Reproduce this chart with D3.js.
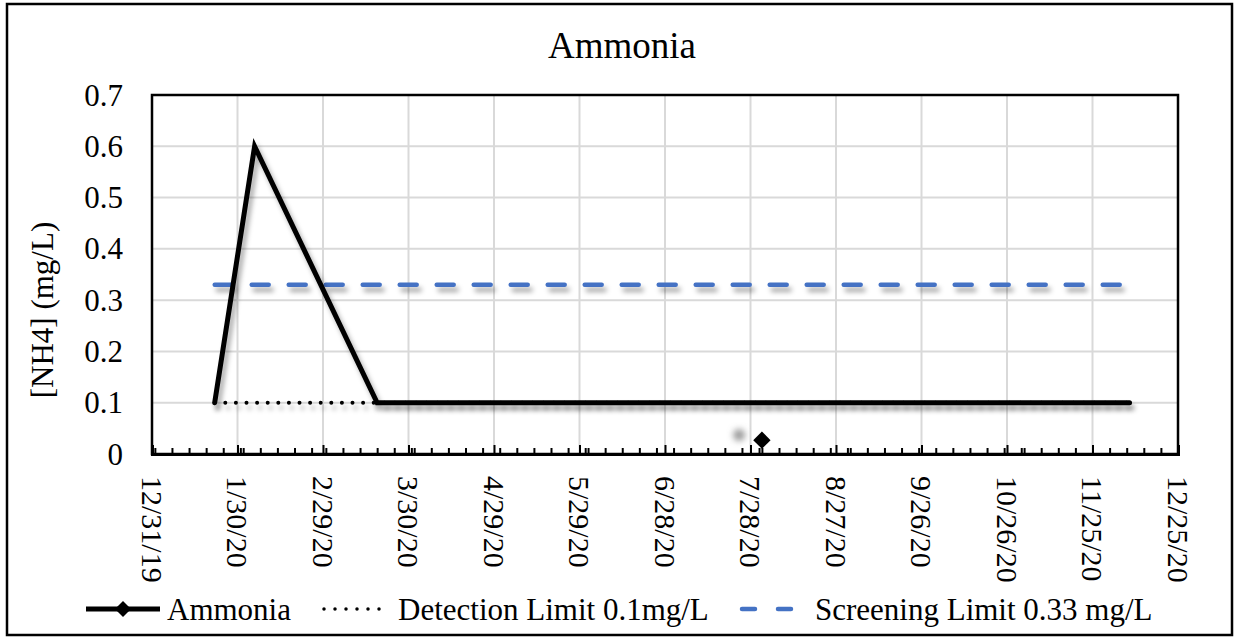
<!DOCTYPE html>
<html>
<head>
<meta charset="utf-8">
<script src="https://cdn.jsdelivr.net/npm/d3@7"></script>
</head>
<body style="margin:0">
<script>
// chart values
const xTickLabels = ["12/31/19", "1/30/20", "2/29/20", "3/30/20", "4/29/20", "5/29/20", "6/28/20",
  "7/28/20", "8/27/20", "9/26/20", "10/26/20", "11/25/20", "12/25/20"];
const yTicks = [0, 0.1, 0.2, 0.3, 0.4, 0.5, 0.6, 0.7];

const ammoniaDates = ["1/22/20", "2/5/20", "3/19/20", "12/8/20"];
const ammoniaValues = [0.1, 0.6, 0.1, 0.1];

const limitDates = ["1/22/20", "12/8/20"];
const detectionValues = [0.1, 0.1];
const screeningValues = [0.33, 0.33];

const markerDates = ["8/1/20"];
const markerValues = [0.027];
const ghostDates = ["7/24/20"];
const ghostValues = [0.037];

const legendNames = ["Ammonia", "Detection Limit 0.1mg/L", "Screening Limit 0.33 mg/L"];

const width = 1234, height = 639;
const margin = { top: 95, right: 56, bottom: 185, left: 152 };
const parse = d3.utcParse("%m/%d/%y");

const svg = d3.select("body").append("svg")
  .attr("width", width)
  .attr("height", height)
  .attr("font-family", "Liberation Serif");

const defs = svg.append("defs");
defs.append("filter")
  .attr("id", "shadow")
  .attr("filterUnits", "userSpaceOnUse")
  .attr("x", 0).attr("y", 0).attr("width", width).attr("height", height)
  .append("feDropShadow")
  .attr("dx", 3).attr("dy", 5).attr("stdDeviation", 2.5)
  .attr("flood-color", "#000").attr("flood-opacity", 0.35);
defs.append("filter")
  .attr("id", "blur")
  .attr("filterUnits", "userSpaceOnUse")
  .attr("x", 0).attr("y", 0).attr("width", width).attr("height", height)
  .append("feGaussianBlur").attr("stdDeviation", 3);

// outer frame
svg.append("rect")
  .attr("x", 7).attr("y", 4)
  .attr("width", 1225).attr("height", 631)
  .attr("fill", "none").attr("stroke", "#000").attr("stroke-width", 2.5);

const x = d3.scaleUtc()
  .domain([parse(xTickLabels[0]), parse(xTickLabels[xTickLabels.length - 1])])
  .range([margin.left, width - margin.right]);

const y = d3.scaleLinear()
  .domain([0, 0.7])
  .range([height - margin.bottom, margin.top]);

const majorDates = xTickLabels.map(parse);
const minorDates = d3.utcDay.every(6).range(x.domain()[0], x.domain()[1]);

// gridlines
svg.append("g")
  .selectAll("line.hgrid")
  .data(yTicks.slice(1))
  .enter().append("line")
  .attr("x1", x.range()[0]).attr("x2", x.range()[1])
  .attr("y1", d => y(d)).attr("y2", d => y(d))
  .attr("stroke", "#d9d9d9").attr("stroke-width", 2);

svg.append("g")
  .selectAll("line.vgrid")
  .data(majorDates.slice(1))
  .enter().append("line")
  .attr("x1", d => x(d)).attr("x2", d => x(d))
  .attr("y1", y.range()[0]).attr("y2", y.range()[1])
  .attr("stroke", "#d9d9d9").attr("stroke-width", 2);

// plot border
svg.append("rect")
  .attr("x", x.range()[0]).attr("y", y.range()[1])
  .attr("width", x.range()[1] - x.range()[0])
  .attr("height", y.range()[0] - y.range()[1])
  .attr("fill", "none").attr("stroke", "#000").attr("stroke-width", 2.5);

// x axis ticks (inside the plot)
const xMinor = svg.append("g")
  .attr("transform", `translate(0,${y(0)})`)
  .call(d3.axisBottom(x).tickValues(minorDates).tickSize(-6).tickFormat(""));
xMinor.select(".domain").remove();
xMinor.selectAll(".tick line").attr("stroke", "#000").attr("stroke-width", 2);

const xMajor = svg.append("g")
  .attr("transform", `translate(0,${y(0)})`)
  .call(d3.axisBottom(x).tickValues(majorDates).tickSize(-9).tickFormat(""));
xMajor.select(".domain").attr("stroke", "#000").attr("stroke-width", 3);
xMajor.selectAll(".tick line").attr("stroke", "#000").attr("stroke-width", 2);

// x tick labels, rotated
svg.append("g")
  .selectAll("text")
  .data(majorDates)
  .enter().append("text")
  .attr("transform", d => `translate(${x(d)},${y(0) + 22}) rotate(90)`)
  .attr("dominant-baseline", "central")
  .attr("font-size", 30)
  .attr("fill", "#000")
  .text((d, i) => xTickLabels[i]);

// y tick labels
svg.append("g")
  .selectAll("text")
  .data(yTicks)
  .enter().append("text")
  .attr("x", 123)
  .attr("y", d => y(d))
  .attr("text-anchor", "end")
  .attr("dominant-baseline", "central")
  .attr("font-size", 31)
  .attr("fill", "#000")
  .text(d => d === 0 ? "0" : d3.format(".1f")(d));

// titles
svg.append("text")
  .attr("x", 622).attr("y", 58)
  .attr("text-anchor", "middle")
  .attr("font-size", 37)
  .text("Ammonia");

svg.append("text")
  .attr("transform", "translate(42,310) rotate(-90)")
  .attr("text-anchor", "middle")
  .attr("dominant-baseline", "central")
  .attr("font-size", 31)
  .text("[NH4] (mg/L)");

const line = d3.line()
  .x(d => x(d[0]))
  .y(d => y(d[1]));

const pairs = (dates, vals) => dates.map((d, i) => [parse(d), vals[i]]);

// screening limit
svg.append("path")
  .datum(pairs(limitDates, screeningValues))
  .attr("d", line)
  .attr("fill", "none")
  .attr("stroke", "#4472c4")
  .attr("stroke-width", 4.5)
  .attr("stroke-linecap", "round")
  .attr("stroke-dasharray", "17 20")
  .attr("filter", "url(#shadow)");

// detection limit
svg.append("path")
  .datum(pairs(limitDates, detectionValues))
  .attr("d", line)
  .attr("fill", "none")
  .attr("stroke", "#000")
  .attr("stroke-width", 4)
  .attr("stroke-linecap", "round")
  .attr("stroke-dasharray", "0 10.6")
  .attr("filter", "url(#shadow)");

// ammonia
svg.append("path")
  .datum(pairs(ammoniaDates, ammoniaValues))
  .attr("d", line)
  .attr("fill", "none")
  .attr("stroke", "#000")
  .attr("stroke-width", 5)
  .attr("stroke-linejoin", "miter")
  .attr("stroke-linecap", "round")
  .attr("filter", "url(#shadow)");

// stray marker and its ghost
svg.append("g")
  .selectAll("circle")
  .data(pairs(ghostDates, ghostValues))
  .enter().append("circle")
  .attr("cx", d => x(d[0])).attr("cy", d => y(d[1]))
  .attr("r", 6)
  .attr("fill", "#999")
  .attr("filter", "url(#blur)");

const diamond = d3.symbol(d3.symbolSquare, 150);
svg.append("g")
  .selectAll("path")
  .data(pairs(markerDates, markerValues))
  .enter().append("path")
  .attr("d", diamond)
  .attr("transform", d => `translate(${x(d[0])},${y(d[1])}) rotate(45)`)
  .attr("fill", "#000");

// legend
const ly = 609;
const legend = svg.append("g");
legend.append("line")
  .attr("x1", 86).attr("x2", 160).attr("y1", ly).attr("y2", ly)
  .attr("stroke", "#000").attr("stroke-width", 5);
legend.append("path")
  .attr("d", d3.symbol(d3.symbolSquare, 130))
  .attr("transform", `translate(123,${ly}) rotate(45)`);
legend.append("line")
  .attr("x1", 324).attr("x2", 390).attr("y1", ly).attr("y2", ly)
  .attr("stroke", "#000").attr("stroke-width", 3.5)
  .attr("stroke-linecap", "round")
  .attr("stroke-dasharray", "0 11");
legend.append("line")
  .attr("x1", 742).attr("x2", 792).attr("y1", ly).attr("y2", ly)
  .attr("stroke", "#4472c4").attr("stroke-width", 4.5)
  .attr("stroke-linecap", "round")
  .attr("stroke-dasharray", "13 23");

legend.selectAll("text")
  .data(legendNames)
  .enter().append("text")
  .attr("x", (d, i) => [167, 398, 815][i])
  .attr("y", 620)
  .attr("font-size", 31)
  .attr("fill", "#000")
  .text(d => d);

svg.selectAll("text")
  .attr("font-family", "Liberation Serif")
  .style("font-family", '"Liberation Serif"');
</script>
</body>
</html>
